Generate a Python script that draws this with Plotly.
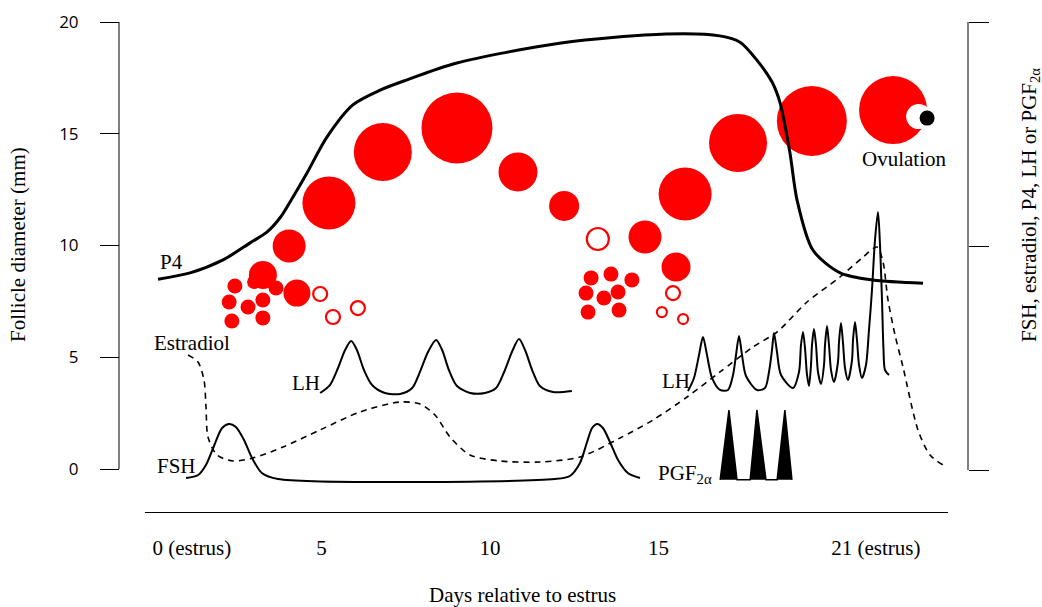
import plotly.graph_objects as go

W, H = 1042, 607

# ---------------- data (days relative to estrus; hormone level in arbitrary units 0-100) ----------------
p4_day = [0.15, 1.10, 2.08, 2.88, 3.38, 3.77, 4.15, 4.57, 5.16, 5.93, 6.74, 7.54, 8.99, 12.11, 15.22, 16.82,
          17.42, 17.92, 18.37, 18.61, 18.90, 19.11, 19.58, 20.39, 21.36, 22.85]
p4_lvl = [42.6, 44.0, 46.9, 50.7, 53.1, 56.3, 60.9, 66.3, 74.3, 81.5, 84.8, 87.1, 90.8, 95.3, 97.3, 96.9,
          95.5, 91.5, 86.6, 81.9, 70.8, 60.3, 49.1, 44.0, 42.4, 41.7]

fsh_day = [0.98, 1.34, 1.57, 1.81, 2.05, 2.26, 2.46, 2.70, 2.94, 3.23, 3.71, 11.93, 12.37, 12.67, 12.88,
           13.03, 13.18, 13.35, 13.56, 13.80, 14.09, 14.45]
fsh_lvl = [-1.79, -1.12, 1.12, 5.36, 9.38, 10.27, 9.60, 6.70, 2.68, -0.67, -2.01, -2.01, -1.34, 1.56, 6.25,
           9.38, 10.27, 9.38, 6.25, 2.23, -0.67, -1.79]

lh1_day = [4.96, 5.25, 5.49, 5.70, 5.88, 6.05, 6.26, 6.50, 6.88, 7.33, 7.69, 7.92, 8.16, 8.40, 8.58, 8.78,
           9.02, 9.41, 9.85, 10.18, 10.42, 10.65, 10.86, 11.04, 11.25, 11.48, 11.87, 12.43]
lh1_lvl = [17.19, 18.97, 22.77, 26.79, 28.79, 26.79, 22.32, 18.97, 17.19, 16.96, 18.30, 21.88, 26.34, 29.02,
           26.79, 22.32, 18.75, 17.19, 17.19, 18.30, 21.88, 26.34, 29.24, 26.79, 22.32, 18.75, 17.41, 17.63]

lh2_day = [15.875, 16.053, 16.202, 16.320, 16.439, 16.588, 16.825,
           17.062, 17.211, 17.300, 17.389, 17.478, 17.596, 17.923,
           18.160, 18.279, 18.368, 18.427, 18.516, 18.635, 18.991,
           19.169, 19.228, 19.288, 19.347, 19.407, 19.466,
           19.525, 19.555, 19.614, 19.674, 19.733, 19.822,
           19.911, 19.941, 20.000, 20.059, 20.119, 20.208,
           20.326, 20.356, 20.415, 20.475, 20.534, 20.623,
           20.742, 20.772, 20.831, 20.890, 20.950, 21.039,
           21.157, 21.246, 21.335, 21.424, 21.513, 21.573, 21.632, 21.677, 21.721, 21.840]
lh2_lvl = [17.63, 20.54, 25.67, 29.69, 25.67, 20.54, 17.86,
           17.86, 21.21, 25.67, 29.91, 25.67, 20.98, 17.86,
           18.30, 21.88, 26.79, 30.58, 26.34, 21.21, 18.30,
           21.88, 27.90, 30.80, 27.23, 21.21, 18.75,
           23.44, 27.90, 31.47, 27.90, 21.88, 19.20,
           23.44, 27.90, 32.14, 27.90, 22.32, 19.64,
           24.11, 28.57, 32.81, 28.35, 22.77, 20.09,
           24.55, 29.02, 33.04, 29.02, 23.44, 20.54,
           23.44, 31.25, 40.18, 51.34, 57.59, 50.22, 37.95, 26.79, 22.32, 21.21]

e2_day = [1.039, 1.335, 1.513, 1.573, 1.632, 1.899, 2.374, 2.967, 3.858, 4.955, 6.142, 7.329, 7.923, 8.368,
          8.813, 9.407, 10.297, 11.484, 12.671, 13.858, 14.837, 15.846, 16.825, 17.804, 18.516, 19.407,
          20.386, 21.039, 21.484, 21.662, 21.810, 22.018, 22.255, 22.700, 23.056, 23.45]
e2_lvl = [25.67, 24.11, 20.09, 14.06, 7.37, 3.35, 2.01, 2.68, 5.13, 8.93, 12.95, 15.18, 14.73, 12.28,
          7.37, 3.35, 2.01, 1.79, 2.90, 7.14, 11.16, 16.29, 21.88, 27.46, 30.80, 37.50,
          43.08, 47.32, 49.78, 46.43, 37.95, 30.13, 22.99, 8.93, 3.35, 1.1]

pgf_day = [16.83, 17.09, 17.33, 17.72, 17.92, 18.19, 18.52, 18.75, 18.96]
pgf_lvl = [-2.2, 13.4, -2.2, -2.2, 13.4, -2.2, -2.2, 13.4, -2.2]

# follicles: day, diameter (mm), relative drawn size
fol_day = [3.26, 3.00, 3.65, 2.43, 2.26, 2.82, 3.26, 2.34, 3.26, 4.27,
           4.04, 5.22, 6.82, 9.02, 10.83, 12.20,
           14.60, 15.52, 15.79, 17.36, 19.55, 21.96,
           13.00, 13.59, 14.21, 12.85, 13.38, 13.80, 12.91, 13.83]
fol_mm = [8.68, 8.37, 8.10, 8.19, 7.47, 7.25, 7.56, 6.62, 6.76, 7.87,
          9.98, 11.90, 14.18, 15.26, 13.29, 11.77,
          10.38, 9.04, 12.30, 14.59, 15.57, 16.06,
          8.55, 8.72, 8.46, 7.87, 7.65, 7.92, 7.02, 7.11]
fol_size = [28, 14, 15, 15, 15, 15, 15, 15, 15, 27,
            33, 53, 58, 71, 39, 30,
            33, 29, 53, 58, 70, 68,
            15, 15, 15, 15, 15, 15, 15, 15]

atr_day = [4.96, 5.34, 6.08, 13.20, 15.43, 15.10, 15.73]
atr_mm = [7.83, 6.80, 7.20, 10.29, 7.87, 7.02, 6.71]
atr_size = [14, 14, 14, 22, 14, 10, 10]

notch_day, notch_mm = [22.72], [15.77]
oocyte_day, oocyte_mm = [22.97], [15.70]

x_tick_pos = [1.15, 5, 10, 15, 21.45]
x_tick_text = ["0 (estrus)", "5", "10", "15", "21 (estrus)"]
y_ticks = [0, 5, 10, 15, 20]
y2_ticks = [0, 50, 100]

# ---------------- layout geometry ----------------
PX_DAY = 33.7
DAY0 = 153
PX_MM = 22.35
MM0 = 469
PX_LVL = 4.48
LVL0 = 470
XL, XR = 145, 948


def px2day(p):
    return (p - DAY0) / PX_DAY


SERIF = "Liberation Serif"
FS = 21
BLACK = "black"
RED = "#ff0000"

fig = go.Figure()

def line(x, y, width=2, dash=None):
    fig.add_trace(go.Scatter(x=x, y=y, yaxis="y2", mode="lines", hoverinfo="skip",
                             line=dict(color=BLACK, width=width, shape="spline", smoothing=0.8,
                                       dash=dash)))

line(e2_day, e2_lvl, width=1.6, dash="6px,5px")
line(p4_day, p4_lvl, width=3)
line(fsh_day, fsh_lvl, width=2)
line(lh1_day, lh1_lvl, width=2)
line(lh2_day, lh2_lvl, width=2)

fig.add_trace(go.Scatter(x=pgf_day, y=pgf_lvl, yaxis="y2", mode="lines", fill="toself",
                         fillcolor=BLACK, line=dict(color=BLACK, width=1.5), hoverinfo="skip"))

fig.add_trace(go.Scatter(x=fol_day, y=fol_mm, mode="markers", hoverinfo="skip",
                         marker=dict(color=RED, size=fol_size, opacity=1, line=dict(width=0))))
fig.add_trace(go.Scatter(x=atr_day, y=atr_mm, mode="markers", hoverinfo="skip",
                         marker=dict(color="white", size=atr_size, opacity=1,
                                     line=dict(width=2.2, color=RED))))
fig.add_trace(go.Scatter(x=notch_day, y=notch_mm, mode="markers", hoverinfo="skip",
                         marker=dict(color="white", size=25, opacity=1, line=dict(width=0))))
fig.add_trace(go.Scatter(x=oocyte_day, y=oocyte_mm, mode="markers", hoverinfo="skip",
                         marker=dict(color=BLACK, size=15, opacity=1, line=dict(width=0))))

ann = []
def label(text, x, y, yref="y2"):
    ann.append(dict(text=text, x=x, y=y, xref="x", yref=yref, showarrow=False,
                    xanchor="center", yanchor="middle",
                    font=dict(family=SERIF, size=FS, color=BLACK)))

label("P4", 0.56, 46.4)
label("Estradiol", 1.16, 28.3)
label("FSH", 0.71, 0.9)
label("LH", 4.54, 19.4)
label("LH", 15.52, 19.9)
label("PGF<sub>2α</sub>", 15.79, -0.8)
label("Ovulation", 22.28, 13.87, yref="y")

def paper_text(text, x, y, angle=0):
    ann.append(dict(text=text, x=x / W, y=1 - y / H, xref="paper", yref="paper", textangle=angle,
                    xanchor="center", yanchor="middle", showarrow=False,
                    font=dict(family=SERIF, size=FS, color=BLACK)))

paper_text("Follicle diameter (mm)", 18, 245, -90)
paper_text("FSH, estradiol, P4, LH or PGF<sub>2α</sub>", 1030, 205, -90)
paper_text("Days relative to estrus", 522, 595)

shapes = [
    dict(type="line", xref="paper", yref="y", x0=119 / W, x1=119 / W, y0=0, y1=20,
         line=dict(color=BLACK, width=1)),
    dict(type="line", xref="paper", yref="y2", x0=968 / W, x1=968 / W, y0=0, y1=100,
         line=dict(color=BLACK, width=1)),
]

fig.update_layout(
    width=W, height=H, margin=dict(l=0, r=0, t=0, b=0),
    paper_bgcolor="white", plot_bgcolor="rgba(0,0,0,0)",
    showlegend=False, annotations=ann, shapes=shapes,
    xaxis=dict(domain=[XL / W, XR / W], range=[px2day(XL), px2day(XR)], anchor="free",
               position=(H - 512) / H, showline=True, linecolor=BLACK, linewidth=1.3,
               showgrid=False, zeroline=False, ticks="", tickvals=x_tick_pos, ticktext=x_tick_text,
               tickfont=dict(family=SERIF, size=FS, color=BLACK), ticklabelstandoff=17),
    yaxis=dict(domain=[0, 1], range=[-(H - MM0) / PX_MM, MM0 / PX_MM], anchor="free",
               position=119 / W, showline=False, showgrid=False, zeroline=False,
               ticks="outside", ticklen=19, tickcolor=BLACK, tickwidth=1, tickvals=y_ticks,
               tickfont=dict(family="Open Sans", size=17, color=BLACK), ticklabelstandoff=18),
    yaxis2=dict(domain=[0, 1], range=[-(H - LVL0) / PX_LVL, LVL0 / PX_LVL], anchor="free",
                overlaying="y", side="right", position=968 / W, showline=False, showgrid=False,
                zeroline=False, ticks="outside", ticklen=20, tickcolor=BLACK, tickwidth=1,
                tickvals=y2_ticks, showticklabels=False),
)

fig.write_html("out.html", config={"displayModeBar": False},
               post_script="document.body.style.margin='0';")
